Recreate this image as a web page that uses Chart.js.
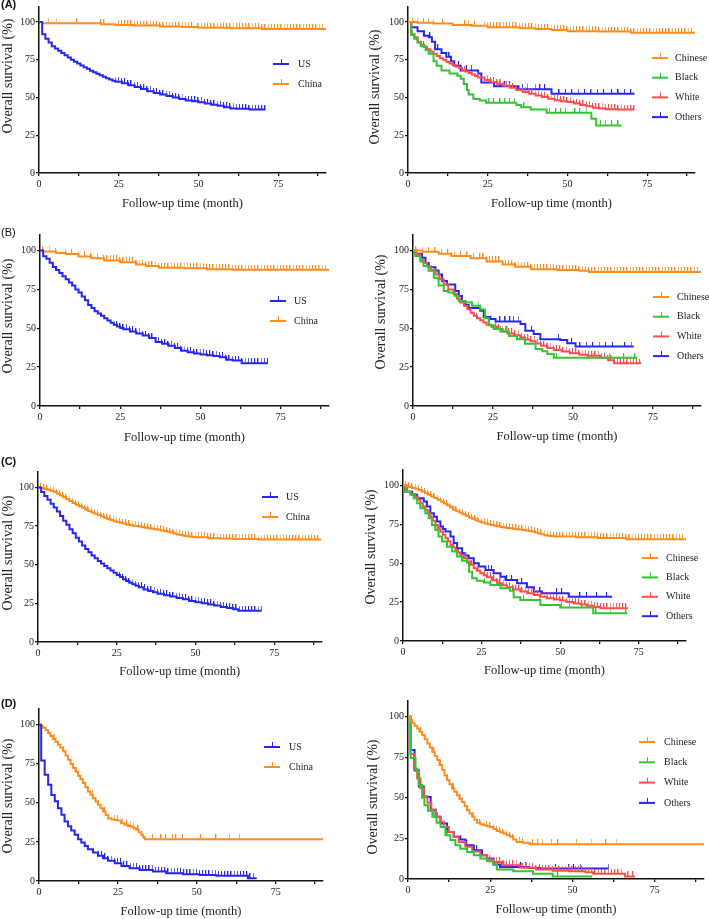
<!DOCTYPE html>
<html>
<head>
<meta charset="utf-8">
<script src="https://cdn.jsdelivr.net/npm/chart.js@4.4.1/dist/chart.umd.min.js"></script>
<style>
  body { margin: 0; background: #fff; }
  #wrap { position: relative; width: 709px; height: 919px; overflow: hidden; }
  canvas { position: absolute; }
  .tag { position: absolute; font: 11px "Liberation Sans", Arial, sans-serif; color: #111; }
</style>
</head>
<body>
<div id="wrap">
  <canvas id="aL" width="354" height="228" style="left:0;top:0"></canvas>
  <canvas id="aR" width="355" height="228" style="left:354px;top:0"></canvas>
  <canvas id="bL" width="354" height="230" style="left:0;top:228px"></canvas>
  <canvas id="bR" width="355" height="230" style="left:354px;top:228px"></canvas>
  <canvas id="cL" width="354" height="230" style="left:0;top:458px"></canvas>
  <canvas id="cR" width="355" height="230" style="left:354px;top:458px"></canvas>
  <canvas id="dL" width="354" height="231" style="left:0;top:688px"></canvas>
  <canvas id="dR" width="355" height="231" style="left:354px;top:688px"></canvas>
  <div class="tag" style="left:1px;top:-2px;font-weight:bold">(A)</div>
  <div class="tag" style="left:1px;top:226px">(B)</div>
  <div class="tag" style="left:1px;top:455px;font-weight:bold">(C)</div>
  <div class="tag" style="left:1px;top:697px;font-weight:bold">(D)</div>
</div>
<script>
const SERIF = '"Liberation Serif", "Times New Roman", serif';
const BLUE = '#2626f2', ORANGE = '#ff8c1f', GREEN = '#33c433', RED = '#ff4d4d';

// ---------- (A) left: US vs China
const aUsTime = [0,1,2,3,4,5,6,7,8,9,10,11,12,13,14,15,16,17,18,19,20,21,22,23,24,26,28,30,32,34,36,38,40,42,44,46,48,50,52,54,56,58,60,62,66,71];
const aUsSurv = [100,92,89,86.5,84,82.5,81,79.5,78,76.5,75,73.8,72.6,71.3,70,69,67.8,66.8,65.8,64.8,63.8,62.8,61.9,61.2,60.5,59.4,58.2,57,55.6,54.2,53,52,51,50,49,48,47.5,46.8,46,45.2,44.5,43.6,42.8,42.5,42,42];
const aUsCens = [24,25,26,27,28,29,30,31,32,33,34,35,36,37,38,39,40,41,42,43,44,45,46,47,48,49,50,51,52,53,54,55,56,57,58,59,60,61,62,63,64,65,66,67,68,69,70,71];
const aCnTime = [0,1,19.5,24,30,38,45,50,60,70,90];
const aCnSurv = [100,99.3,98.5,98,97.7,97,96.7,96.3,96,95.5,95.5];
const aCnCens = [3,5.5,12,19.5,20.5,25,26,27,28,29,30,31,32,33,34,35,36,37,38,39,40,41,42,43,44,45,46,47,48,50,51,52,53,54,55,56,57,58,59,60,61,62,63,64,65,66,67,68,69,70,71,72,73,74,75,76,77,78,79,80,81,82,83,84,85,86,87,88,89];

// ---------- (A) right: by race
const aChTime = [0,3,8,14,20,25,35,40,45,50,60,70,90];
const aChSurv = [100,99.5,99,98,97.5,96.5,96,95.5,94.8,94,93.7,93,92.8];
const aChCens = [1.5,3,5,6.5,8,11,18,19,21,24,25,26,27,28,29,30,31,32,33,34,35,36,37,38,39,40,41,42,43,44,45,46,47,48,49,50,51,52,53,54,55,56,57,58,59,60,61,62,63,64,65,66,67,68,69,70,71,72,73,74,75,76,77,78,79,80,81,82,83,84,85,86,87,88,89];
const aBlTime = [0,1,2,3,4,5.5,6.5,8,9,10.5,13,15.5,16.5,17.5,18.5,19,20.5,22.5,24.5,34,35.5,38.5,43.5,57.5,59,67];
const aBlSurv = [100,91.5,89,86.5,84,81.5,79,74,71,68,66,64.5,62.5,59,55,52,49,48,46.5,45,43.5,42,40,36,31.5,31.5];
const aBlCens = [1.5,5,25.5,27,29,30.5,32,33.5,36.5,44.5,46.5,48,49.5,52.5,54,56,60.5,62,64,66];
const aWhTime = [0,1,2,3,4,5,6,7,8,9,10,11,12,13,14,15,16,17,18,19,20,21,22,24,26,28,30,32,34,36,38,40,42,44,46,48,50,52,54,56,58,60,62,66,71];
const aWhSurv = [100,92,90,87,85,83.5,82,80.5,79,77.5,76,75,73.8,72.5,71.5,70.5,69.5,68.3,67.3,66.3,65.3,64.3,63.3,61.6,60.2,59,57.8,56.5,55,53.6,52.5,51.3,50.3,49.2,48.2,47.6,47,46,45,44.2,43.3,42.8,42.2,42,42];
const aWhCens = [14,18,22,25,26,27,28,29,30,31,32,33,34,35,36,37,38,39,40,41,42,43,44,45,46,47,48,49,50,51,52,53,54,55,56,57,58,59,60,61,62,63,64,65,66,67,68,69,70,71];
const aOtTime = [0,1,3,5,6.5,7.5,8.5,10.5,12,13.5,14.5,16.5,22,23,27,34.5,45,71];
const aOtSurv = [100,96.5,94,91,90,87,82,79.5,77,74,71,68,66,60,57.5,55.5,52.5,52.5];
const aOtCens = [7,9.5,13,16,18.5,20,29,30.5,32,36,37.5,40,41.5,43,47.5,49.5,51.5,53.5,55.5,57.5,59.5,61.5,64,66,68,70];

// ---------- (B) left
const bUsTime = [0,1,2,3,4,5,6,7,8,9,10,11,12,13,14,15,16,17,18,19,20,21,22,23,24,25,26,28,30,32,34,36,38,40,42,44,46,48,50,52,54,56,58,60,62.8,71];
const bUsSurv = [100,96.4,94.7,92.2,89.4,87.5,85.5,83.5,81.5,79.5,77.5,75,73,70.5,68,65,63,61,59.5,58,56.5,55,53.5,52.3,51.2,50.2,49.3,48,46.7,45.3,43.7,41.2,40,38.8,37.3,35.5,34.5,33.7,33.2,32.7,32.2,31.3,29.8,29.2,27.5,27.5];
const bUsCens = [24,25,26,27,28,29,30,31,32,33,34,35,36,37,38,39,40,41,42,43,44,45,46,47,48,49,50,51,52,53,54,55,56,57,58,59,60,61,62,63,64,65,66,67,68,69,70,71];
const bCnTime = [0,1,5,8,12,16,20,25,30,33,37,45,52,60,90];
const bCnSurv = [100,99.4,98.5,97.8,96.2,95,93.6,92.4,91,90,89,88.6,88,87.6,87.6];
const bCnCens = [1,3,5,8,10,12,14,16,18,20,21,22,23,24,25,26,27,28,29,30,31,32,33,34,35,36,37,38,39,40,41,42,43,44,45,46,47,48,49,50,51,52,53,54,55,56,57,58,59,60,61,62,63,64,65,66,67,68,69,70,71,72,73,74,75,76,77,78,79,80,81,82,83,84,85,86,87,88,89];

// ---------- (B) right
const bChTime = [0,3,8,12,18,23,28,32,37,45,52,55,90];
const bChSurv = [100,99.3,98,96.5,95,93,91,89.5,88,87.5,87,86.2,86.2];
const bChCens = [1,3,5,7,9,11,13,15,17,19,21,22,23,24,25,26,27,28,29,30,31,32,33,34,35,36,37,38,39,40,41,42,43,44,45,46,47,48,49,50,51,52,53,54,55,56,57,58,59,60,61,62,63,64,65,66,67,68,69,70,71,72,73,74,75,76,77,78,79,80,81,82,83,84,85,86,87,88,89];
const bBlTime = [0,0.7,2.3,3.3,4.9,6.5,8,9.6,11,13,14.3,16.4,18.5,21,22.5,23.7,25.2,27.3,30,32.5,35,38.3,40.4,42,44,70];
const bBlSurv = [100,96.5,93,90,87,82.5,77.5,74,73,71,67.5,66.5,64.5,62,56.5,52,49.5,48,45,43,40,36.7,35.2,33.5,31,31];
const bBlCens = [18.5,20.5,27.5,29.5,45,56.5,61.5,66,69.5];
const bWhTime = [0,1,2.3,3.3,4.4,5.5,7,8.3,9.6,11,12.7,13.7,14.8,16,17,18,19,20,21,22,23,24.5,26.3,28,29.5,31.5,33.5,35,36.7,38.3,40,42,44,46.5,49,52,54.5,58.5,61,62.8,71];
const bWhSurv = [100,97.5,94.2,92,90,87.5,84.6,81.5,78.2,75,72,69,66.5,64.3,62.3,60,58,56.5,55.2,53.7,52.2,51,49.5,48,46.7,45.5,44,42.8,41.6,40.2,38.8,37.3,36,35,34,33,32.4,31,29.5,27.5,27];
const bWhCens = [16,20,24,26,27,28,29,30,31,32,33,34,35,36,37,38,39,40,41,42,43,44,45,46,47,48,49,50,51,52,53,54,55,56,57,58,59,60,61,62,63,64,65,66,67,68,69,70,71];
const bOtTime = [0,0.7,2.8,3.9,4.9,7,8,9.1,10.6,13.2,14.3,15.3,16.4,17.4,21,22.1,24.2,25.8,33.6,35.1,37.7,39.8,46,48.2,50.8,69];
const bOtSurv = [100,98,95.3,92,89.3,87.2,84.6,80.4,78.2,74,70.8,67.6,65,63,61.2,57.3,56,54.4,52.7,48.4,46.3,43,42.4,40.3,38.2,38.2];
const bOtCens = [27.3,28.9,30.4,31.5,33,37.2,45.6,49.7,52.3,54.3,56.3,58.3,60.3,62.5,66.3,68.3];

// ---------- (C) left
const cUsTime = [0,1,2,3,4,5,6,7,8,9,10,11,12,13,14,15,16,17,18,19,20,21,22,23,24,25,26,27,28,29,30,31,32,33.5,35,36.5,38,40,42,44,46,48,50,52,54,56,58,60,62,63.6,71];
const cUsSurv = [100,97,94.5,92,89.5,87,84.5,81.5,78.5,75.8,73,70.3,67.5,65,62.4,60.2,58,56,54.2,52.4,50.8,49.2,47.7,46.2,44.8,43.3,42,40.6,39.5,38.4,37.4,36.4,35.4,34,33,32.2,31.2,30.2,29.4,28.5,27.6,26.6,25.8,25,24.3,23.6,22.7,22,21.2,20.2,20.2];
const cUsCens = [26,27,28,29,30,31,32,33,34,35,36,37,38,39,40,41,42,43,44,45,46,47,48,49,50,51,52,53,54,55,56,57,58,59,60,61,62,63,64,65,66,67,68,69,70,71];
const cCnTime = [0,1,2,3,4,5,6,7,8,9,10,11,12,13,14,15,16,17,18,19,20,21,22,23,24,25,26,27,28,29,30,31,32,33,34,35,36,37,38,39,40,41,42,43,44,45,46,47,48,49,50,54,58,62,70,90];
const cCnSurv = [100,99.5,99,98.5,97.8,97,96,94.8,93.6,92.4,91.2,90,88.8,87.8,86.8,85.7,84.7,83.8,83,82.1,81.2,80.4,79.6,78.9,78.2,77.7,77.2,76.6,76.1,75.7,75.3,75,74.7,74.3,74,73.6,73.3,72.9,72.6,72.2,71.9,71.4,70.8,70.2,69.6,69.2,68.8,68.5,68.3,68,67.8,67.2,66.9,66.7,66.3,66.3];
const cCnCens = [1,2,3,4,5,6,7,8,9,10,11,12,13,14,15,16,17,18,19,20,21,22,23,24,25,26,27,28,29,30,31,32,33,34,35,36,37,38,39,40,41,42,43,44,45,46,47,48,49,50,51,52,53,54,55,56,57,58,59,60,61,62,63,64,65,66,67,68,69,70,71,72,73,74,75,76,77,78,79,80,81,82,83,84,85,86,87,88,89];

// ---------- (C) right
const cChTime = [0,1,2,3,4,5,6,7,8,9,10,11,12,13,14,15,16,17,18,19,20,21,22,23,24,25,26,27,28,29,30,31,32,33,34,35,36,37,38,39,40,41,42,43,44,45,46,47,48,55,62,71,90];
const cChSurv = [100,99.5,99,98.5,98,97.1,96.2,95.1,94,93,92,90.8,89.6,88.4,87.2,85.8,84.5,83.5,82.5,81.5,80.5,79.5,78.6,77.7,76.8,76.2,75.6,75.1,74.7,74.2,73.8,73.4,73,72.7,72.5,72.2,71.9,71.7,71.4,71.1,70.8,70.5,69.8,69.2,68.6,68,67.7,67.5,67.2,66.8,66.3,65.5,65.5];
const cChCens = [1,2,3,4,5,6,7,8,9,10,11,12,13,14,15,16,17,18,19,20,21,22,23,24,25,26,27,28,29,30,31,32,33,34,35,36,37,38,39,40,41,42,43,44,45,46,47,48,49,50,51,52,53,54,55,56,57,58,59,60,61,62,63,64,65,66,67,68,69,70,71,72,73,74,75,76,77,78,79,80,81,82,83,84,85,86,87,88,89];
const cBlTime = [0,0.7,2.3,3.4,4.5,5.5,7.1,8.2,9.2,10.3,11.3,12.4,14,15.6,17.2,18.8,20.4,21,22,23.5,25.7,27.8,31,34,35.2,37.3,43.7,50,60.5,71.3];
const cBlSurv = [100,96,94,91.8,88.6,85.4,82.2,79,74.7,71.4,67.2,64,60.7,57.5,54.3,51.7,50.4,44.6,40.3,38.8,37.6,36,34,32.4,28.2,26.4,23.2,21.6,17.8,17.8];
const cBlCens = [26,28,38.5,43.5,50.5,53,57,61.5,66,71];
const cWhTime = [0,1.3,2.5,3.9,4.7,5.5,6.3,7.1,7.9,8.7,9.5,10.3,11.1,11.9,12.7,13.5,14.3,15.1,16,16.7,17.5,18.2,19.3,20.4,21.5,22.5,23.5,24.6,25.7,26.7,28.3,30,31.5,33,35,37.3,39.5,41.6,43.7,45.8,48,50,52,54.3,56.5,58.5,60.5,62.8,71.3];
const cWhSurv = [100,96,94.5,92.9,90.8,88.6,86.5,84.3,82.2,80,77.3,74.7,72.5,70.4,68.3,66.1,64,61.8,60.2,58.6,57,55.4,53.3,51.1,49,46.8,45.2,43.6,42.3,41,39,37.1,35.8,34.5,33.1,31.8,30.7,29.6,28.5,27.5,26.7,26,25.1,24.2,23.4,22.7,21.8,21,20.6];
const cWhCens = [20,22,24,26,27,28,29,30,31,32,33,34,35,36,37,38,39,40,41,42,43,44,45,46,47,48,49,50,51,52,53,54,55,56,57,58,59,60,61,62,63,64,65,66,67,68,69,70,71];
const cOtTime = [0,0.7,2.9,4.5,6.6,7.6,8.7,9.8,10.8,11.9,12.7,13.5,15.1,16.1,17.2,18.8,19.8,20.9,22.5,24.1,26.2,28.8,31,32.6,36.3,39.4,41.6,44.2,52.7,66.5];
const cOtSurv = [100,96,94,91.8,89.7,86.5,82.2,80,76.8,73.6,72,70.4,67.2,63,59.7,56.4,55,53.2,50,47.9,45.7,43.6,41.4,39.3,37.1,34.5,31.8,30.7,28.5,28.5];
const cOtCens = [27.3,28.3,33.1,34.7,37.9,39.4,43.7,49,50.6,56.4,58.5,61.7,64.9];

// ---------- (D) left
const dUsTime = [0,0.7,1.8,2.9,3.9,5,6,7.1,8.1,9.2,10.2,11.3,12.4,13.4,14.5,15.5,17.1,18.7,20.3,21.9,24,26.1,28.7,31.9,36.1,40.3,45.6,50.9,56.2,66.2,69];
const dUsSurv = [100,77,68,61.5,55,51,46.6,42.3,38,35,32.3,29.5,26.7,24.6,22.4,20.3,18.2,16.2,14.5,13,11.3,9.6,8.1,7.1,6,4.9,4.3,3.8,3.4,1.8,1.8];
const dUsCens = [19,20,21,22,23,24,25,26,27,28,29,30,31,32,33,34,35,36,37,38,39,40,41,42,43,44,45,46,47,48,49,50,51,52,53,54,55,56,57,58,59,60,61,62,63,64,65,66,67,68];
const dCnTime = [0,0.7,1.3,2.1,2.9,3.6,4.4,5.2,6,6.8,7.6,8.4,9.2,10,10.8,11.6,12.4,13.1,13.9,14.7,15.5,16.3,17.1,17.9,18.7,19.5,20.3,21.1,21.9,23,24,25,26,27.1,28.2,29.3,30.1,30.8,31.6,32.4,33,33.5,90];
const dCnSurv = [100,99,98,96.4,94.7,92.8,90.8,89,87.2,85.2,83,80.3,77.6,74.9,72.2,69.8,67.3,65,62.6,60,57.3,55.2,53,50.8,48.7,46.5,44.4,42.2,40,39.3,39,38.7,37,35.9,35.2,34.4,33.6,32.7,31.1,29.5,28,26.7,26.7];
const dCnCens = [5,8,10,12,14,15.5,17,19,21,24,25,26.5,28,29,30,31.5,32.5,36.1,38.8,40.3,42.4,43.5,45.6,51.4,56.2,60.4,63.6];

// ---------- (D) right
const dChTime = [0,0.7,1.3,2,2.8,3.5,4.3,5.1,5.9,6.6,7.4,8.1,8.9,9.6,10.4,11.1,11.9,12.6,13.4,14.1,14.9,15.6,16.4,17.2,18,18.7,19.5,20.2,21,22,23,24,25,26,27,28,29,30,31,32,33,35,37,90];
const dChSurv = [100,98,96,94.4,92.8,90.8,88.7,86.1,83.5,81,78.4,75.8,73.3,70.2,67.1,64,61,58.4,55.8,53.7,51.6,49.5,47.5,45,42.4,40.3,38.3,36.5,34.6,33.8,33.1,32.5,32,30.8,29.6,28.8,28,27,26,24.4,22.8,22.4,21.4,21.4];
const dChCens = [4,6,8,10,12,14,16,18,20,22,24,25,26,27,28,29,30,31,32,34,35,38,39.6,40.9,43.7,45.7,51.3,55.8,60.3,63.4];
const dBlTime = [0,0.8,2.3,3.3,4.3,5,6.1,7.4,8.7,9.9,11.4,12.9,14.4,15.9,18,20,22,24,26,27,32,38,44,56];
const dBlSurv = [100,74.5,66.5,58,50,45.5,42,38.3,34.6,32,27,24,20.8,18.7,16.7,14.6,12.6,11,9,5.8,4.7,3.3,1.6,1.6];
const dBlCens = [8,12,20,45.7];
const dWhTime = [0,0.8,1.8,2.8,3.8,4.8,5.9,7.1,8.4,9.7,10.9,12.4,13.9,15.4,17.5,19.5,22,24,26,29,34,39,44,49,54,56.3,66,69];
const dWhSurv = [100,77,68,62,56,51,47,42.8,38.3,35.2,32,29,26,22.8,19.8,17,14.6,12,10.5,8.4,7,5.8,5.1,4.7,4.1,3.3,1.6,1.6];
const dWhCens = [25,26,27,28,29,30,31,32,33,34,35,36,37,38,39,40,41,42,43,44,45,46,47,48,49,50,51,52,53,54,55,56,57,58,59,60,61,62,63,64,65,67,68.5];
const dOtTime = [0,0.8,2,3.3,4.8,6.9,8.4,9.9,11.9,13.9,15.9,17.5,20,22.5,24,26,28,37,40,61];
const dOtSurv = [100,79.5,67,57,50.6,42.4,38.3,34.2,29,26,24.3,20.8,17.7,14.6,12.6,9,7.4,6.8,6.4,6.4];
const dOtCens = [2,7,9,12,14,16,18,20,21,24,26,28.5,30,34.5,36,40,45,49,50.5,52.5,61];

// layout of each panel (canvas-relative pixels)
const panels = [
  { id: 'aL', yw: 39, xh: 55, pt: 1, pr: 28, xtb: 16.5, yt: [8, 76], lg: { x: 273, tx: 298, y: 64, gap: 20 },
    series: [['US', BLUE, aUsTime, aUsSurv, aUsCens], ['China', ORANGE, aCnTime, aCnSurv, aCnCens]] },
  { id: 'aR', yw: 54, xh: 55, pt: 1, pr: 14, xtb: 16.5, yt: [21, 87], lg: { x: 298, tx: 321, y: 58, gap: 19.7 },
    series: [['Chinese', ORANGE, aChTime, aChSurv, aChCens], ['Black', GREEN, aBlTime, aBlSurv, aBlCens],
             ['White', RED, aWhTime, aWhSurv, aWhCens], ['Others', BLUE, aOtTime, aOtSurv, aOtCens]] },
  { id: 'bL', yw: 40, xh: 52, pt: 4.5, pr: 25, xtb: 12.5, yt: [8, 88], lg: { x: 270, tx: 294, y: 73, gap: 20 },
    series: [['US', BLUE, bUsTime, bUsSurv, bUsCens], ['China', ORANGE, bCnTime, bCnSurv, bCnCens]] },
  { id: 'bR', yw: 59, xh: 52, pt: 5.7, pr: 8, xtb: 13.5, yt: [27, 84], lg: { x: 299, tx: 323, y: 69, gap: 19.7 },
    series: [['Chinese', ORANGE, bChTime, bChSurv, bChCens], ['Black', GREEN, bBlTime, bBlSurv, bBlCens],
             ['White', RED, bWhTime, bWhSurv, bWhCens], ['Others', BLUE, bOtTime, bOtSurv, bOtCens]] },
  { id: 'cL', yw: 38, xh: 46, pt: 14, pr: 32.5, xtb: 8.5, yt: [8, 95], lg: { x: 262, tx: 286, y: 39, gap: 20 },
    series: [['US', BLUE, cUsTime, cUsSurv, cUsCens], ['China', ORANGE, cCnTime, cCnSurv, cCnCens]] },
  { id: 'cR', yw: 49, xh: 47, pt: 12, pr: 23, xtb: 9.5, yt: [17, 89], lg: { x: 288, tx: 312, y: 100, gap: 19.4 },
    series: [['Chinese', ORANGE, cChTime, cChSurv, cChCens], ['Black', GREEN, cBlTime, cBlSurv, cBlCens],
             ['White', RED, cWhTime, cWhSurv, cWhCens], ['Others', BLUE, cOtTime, cOtSurv, cOtCens]] },
  { id: 'dL', yw: 39, xh: 38, pt: 21, pr: 31, xtb: 0, yt: [8, 108], lg: { x: 264, tx: 289, y: 59, gap: 20 },
    series: [['US', BLUE, dUsTime, dUsSurv, dUsCens], ['China', ORANGE, dCnTime, dCnSurv, dCnCens]] },
  { id: 'dR', yw: 54, xh: 40, pt: 12.5, pr: 4, xtb: 1.5, yt: [19, 109], lg: { x: 285, tx: 310, y: 54, gap: 20.3 },
    series: [['Chinese', ORANGE, dChTime, dChSurv, dChCens], ['Black', GREEN, dBlTime, dBlSurv, dBlCens],
             ['White', RED, dWhTime, dWhSurv, dWhCens], ['Others', BLUE, dOtTime, dOtSurv, dOtCens]] }
];

// survival value of a step curve at a given time
function survAt(times, surv, t) {
  let v = surv[0];
  for (let i = 0; i < times.length; i++) if (times[i] <= t) v = surv[i];
  return v;
}

// small upward tick used for censored observations
function censorMark(color) {
  const c = document.createElement('canvas');
  c.width = 2; c.height = 10;
  const g = c.getContext('2d');
  g.fillStyle = color;
  g.fillRect(0, 0, 1, 5);
  return c;
}

const kmDecor = {
  id: 'kmDecor',
  afterDraw(chart, args, o) {
    const ctx = chart.ctx;
    ctx.save();
    ctx.fillStyle = '#222';
    ctx.font = '14px ' + SERIF;
    ctx.textAlign = 'center';
    ctx.textBaseline = 'middle';
    ctx.translate(o.yt[0], o.yt[1]);
    ctx.rotate(-Math.PI / 2);
    ctx.fillText('Overall survival (%)', 0, 0);
    ctx.restore();

    ctx.save();
    const items = chart.data.datasets.filter(d => d.kmName);
    items.forEach((d, i) => {
      const y = o.lg.y + i * o.lg.gap;
      ctx.strokeStyle = d.borderColor;
      ctx.lineWidth = 2;
      ctx.beginPath();
      ctx.moveTo(o.lg.x, y); ctx.lineTo(o.lg.x + 16, y);
      ctx.stroke();
      ctx.lineWidth = 1;
      ctx.beginPath();
      ctx.moveTo(o.lg.x + 8.5, y); ctx.lineTo(o.lg.x + 8.5, y - 5);
      ctx.stroke();
      ctx.fillStyle = '#222';
      ctx.font = '10px ' + SERIF;
      ctx.textBaseline = 'middle';
      ctx.fillText(d.kmName, o.lg.tx, y);
    });
    ctx.restore();
  }
};

function axisStyle() {
  return {
    border: { color: '#111', width: 1.5 },
    grid: { drawOnChartArea: false, drawTicks: true, tickLength: 3, color: '#111', lineWidth: 1.3 },
  };
}

panels.forEach(p => {
  const datasets = [];
  p.series.forEach(([name, color, times, surv, cens]) => {
    datasets.push({
      kmName: name,
      data: times.map((t, i) => ({ x: t, y: surv[i] })),
      borderColor: color,
      borderWidth: 2,
      pointRadius: 0,
      stepped: true,
      fill: false
    });
    const mark = censorMark(color);
    datasets.push({
      data: cens.map(t => ({ x: t, y: survAt(times, surv, t) })),
      showLine: false,
      pointStyle: mark,
      pointRadius: 3,
      borderColor: color,
      backgroundColor: color
    });
  });

  new Chart(document.getElementById(p.id), {
    type: 'line',
    data: { datasets },
    plugins: [kmDecor],
    options: {
      responsive: false,
      animation: false,
      layout: { padding: { top: p.pt, right: p.pr, left: 0, bottom: 0 } },
      plugins: {
        legend: { display: false },
        tooltip: { enabled: false },
        kmDecor: { yt: p.yt, lg: p.lg }
      },
      scales: {
        x: {
          type: 'linear', min: 0, max: 90,
          afterFit: s => { s.height = p.xh; },
          ...axisStyle(),
          ticks: {
            stepSize: 12.5, includeBounds: false, autoSkip: false, maxRotation: 0, padding: 2,
            color: '#222', font: { family: SERIF, size: 10 },
            callback: v => (v % 25 === 0 ? v : '')
          },
          title: {
            display: true, text: 'Follow-up time (month)', color: '#222',
            font: { family: SERIF, size: 12.5, lineHeight: 1.2 },
            padding: { top: 0, bottom: p.xtb }
          }
        },
        y: {
          type: 'linear', min: 0, max: 110,
          afterFit: s => { s.width = p.yw; },
          ...axisStyle(),
          ticks: {
            stepSize: 25, includeBounds: false, padding: 1,
            color: '#222', font: { family: SERIF, size: 10 }
          }
        }
      }
    }
  });
});
</script>
</body>
</html>
